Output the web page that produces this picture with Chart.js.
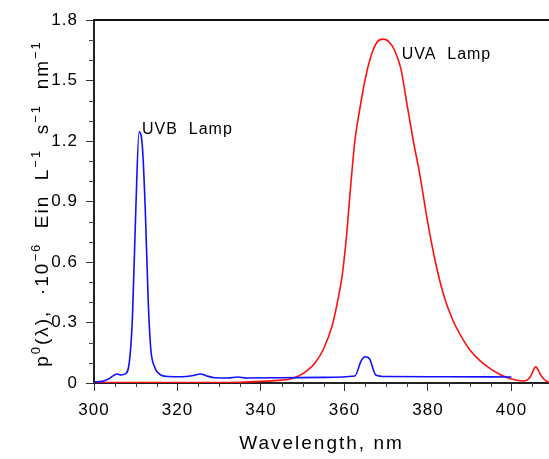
<!DOCTYPE html>
<html>
<head>
<meta charset="utf-8">
<script src="https://cdn.jsdelivr.net/npm/chart.js@4/dist/chart.umd.min.js"></script>
<style>
  html, body { margin: 0; padding: 0; background: #ffffff; }
  #wrap { width: 549px; height: 459px; position: relative; }
</style>
</head>
<body>
<div id="wrap"><canvas id="c"></canvas></div>
<script>
// ---- data ----
const uvbWavelength = [300, 302, 303.5, 305.5, 306.5, 307.5, 308.5, 309.2, 310, 310.8, 311.6, 312.3, 313, 313.6, 314.5, 316, 318, 321, 323.5, 325.5, 327, 329, 332, 334.5, 336.5, 345, 355, 362.5, 364, 365, 366, 367.5, 370, 385, 400];
const uvbIrradiance = [0.005, 0.008, 0.02, 0.045, 0.04, 0.045, 0.11, 0.32, 0.85, 1.245, 1.17, 0.85, 0.40, 0.17, 0.08, 0.04, 0.032, 0.031, 0.036, 0.045, 0.035, 0.026, 0.025, 0.03, 0.025, 0.026, 0.028, 0.035, 0.11, 0.13, 0.12, 0.04, 0.032, 0.031, 0.030];

const uvaWavelength = [300, 320, 335, 340, 344, 347, 349, 351, 353, 355, 357, 358.5, 359.5, 360.5, 361.5, 362.5, 363.6, 365, 366.5, 367.8, 369.2, 370.5, 372, 373.5, 375, 376.5, 378, 380, 382, 384, 386, 388, 390, 392.5, 395, 397.5, 400, 403, 404.5, 405.8, 407, 408, 409];
const uvaIrradiance = [0.002, 0.002, 0.004, 0.008, 0.013, 0.02, 0.035, 0.06, 0.10, 0.17, 0.28, 0.42, 0.54, 0.73, 0.98, 1.2, 1.35, 1.51, 1.63, 1.69, 1.705, 1.695, 1.65, 1.56, 1.38, 1.2, 1.04, 0.79, 0.58, 0.42, 0.31, 0.23, 0.165, 0.11, 0.07, 0.04, 0.02, 0.01, 0.03, 0.08, 0.04, 0.015, 0.003];

const seriesNames = ['UVB  Lamp', 'UVA  Lamp'];
const labelAnchors = [[311.5, 1.235], [373.7, 1.605]];
const xTickValues = [300, 320, 340, 360, 380, 400];
const yTickValues = [0, 0.3, 0.6, 0.9, 1.2, 1.5, 1.8];
const xTitle = 'Wavelength, nm';
// y title: [text, isSuperscript]
const yTitleParts = [['p', 0], ['0', 1], ['(\u03bb),  \u00b710', 0], ['\u22126', 1], ['  Ein  L', 0], ['\u22121', 1], ['  s', 0], ['\u22121', 1], ['  nm', 0], ['\u22121', 1]];

const toPoints = (xs, ys) => xs.map((x, i) => ({ x: x, y: ys[i] }));

const FONT = "'Liberation Sans', Arial, Helvetica, sans-serif";

const spacingPlugin = {
  id: 'spacing',
  beforeUpdate(chart) { chart.ctx.letterSpacing = '1px'; },
  beforeDraw(chart) { chart.ctx.letterSpacing = '1px'; }
};

function patchTitle(scale, spacing) {
  if (scale._titlePatched) return;
  const orig = scale.drawTitle;
  scale.drawTitle = function () {
    const ctx = this.ctx;
    ctx.save();
    ctx.letterSpacing = spacing;
    orig.call(this);
    ctx.restore();
  };
  scale._titlePatched = true;
}

const decorPlugin = {
  id: 'decor',
  afterDraw(chart) {
    const ctx = chart.ctx;
    const xs = chart.scales.x, ys = chart.scales.y;
    const area = chart.chartArea;
    ctx.save();
    // top frame line
    ctx.strokeStyle = '#111';
    ctx.lineWidth = 2;
    ctx.beginPath();
    ctx.moveTo(area.left, area.top);
    ctx.lineTo(area.right + 2, area.top);
    ctx.stroke();
    // minor ticks
    ctx.strokeStyle = '#444';
    ctx.lineWidth = 1;
    for (let v = 305; v < 410; v += 5) {
      if (v % 20 === 0) continue;
      const px = Math.round(xs.getPixelForValue(v)) + 0.5;
      if (px > area.right) break;
      ctx.beginPath();
      ctx.moveTo(px, area.bottom);
      ctx.lineTo(px, area.bottom + 4);
      ctx.stroke();
    }
    for (let k = 1; k < 18; k++) {
      if (k % 3 === 0) continue;
      const py = Math.round(ys.getPixelForValue(k / 10)) + 0.5;
      ctx.beginPath();
      ctx.moveTo(area.left, py);
      ctx.lineTo(area.left - 5, py);
      ctx.stroke();
    }
    // series labels
    ctx.fillStyle = '#000';
    ctx.font = '16px ' + FONT;
    ctx.letterSpacing = '1px';
    ctx.textAlign = 'left';
    ctx.textBaseline = 'alphabetic';
    seriesNames.forEach((name, i) => {
      const [lx, ly] = labelAnchors[i];
      ctx.fillText(name, xs.getPixelForValue(lx), ys.getPixelForValue(ly));
    });
    ctx.restore();

    // y axis title with superscripts (rotated)
    ctx.save();
    ctx.fillStyle = '#000';
    ctx.letterSpacing = '2px';
    ctx.textAlign = 'left';
    ctx.textBaseline = 'alphabetic';
    const mainFont = '19px ' + FONT, supFont = '13px ' + FONT;
    let total = 0;
    const widths = yTitleParts.map(([t, s]) => {
      ctx.font = s ? supFont : mainFont;
      const w = ctx.measureText(t).width;
      total += w;
      return w;
    });
    const cy = (area.top + area.bottom) / 2 + 2;
    ctx.translate(47.5, cy);
    ctx.rotate(-Math.PI / 2);
    let x = -total / 2;
    yTitleParts.forEach(([t, s], i) => {
      ctx.font = s ? supFont : mainFont;
      ctx.fillText(t, x, s ? -8 : 0);
      x += widths[i];
    });
    ctx.restore();
  }
};

new Chart(document.getElementById('c'), {
  type: 'scatter',
  data: {
    datasets: [
      {
        label: seriesNames[0],
        data: toPoints(uvbWavelength, uvbIrradiance),
        showLine: true,
        borderColor: '#1010ff',
        borderWidth: 1.6,
        pointRadius: 0,
        cubicInterpolationMode: 'monotone',
        fill: false
      },
      {
        label: seriesNames[1],
        data: toPoints(uvaWavelength, uvaIrradiance),
        showLine: true,
        borderColor: '#ff1010',
        borderWidth: 1.6,
        pointRadius: 0,
        cubicInterpolationMode: 'monotone',
        fill: false
      }
    ]
  },
  options: {
    responsive: true,
    maintainAspectRatio: false,
    animation: false,
    layout: { padding: { top: 20, left: 0, right: 0, bottom: 0 } },
    plugins: {
      legend: { display: false },
      tooltip: { enabled: false }
    },
    scales: {
      x: {
        type: 'linear',
        min: 300,
        max: 409,
        afterFit(scale) { scale.height = 76; patchTitle(scale, '2px'); },
        afterBuildTicks(scale) { scale.ticks = xTickValues.map(v => ({ value: v })); },
        border: { display: true, color: '#222', width: 2 },
        grid: { drawOnChartArea: false, drawTicks: true, tickLength: 8, color: '#333', tickWidth: 1 },
        ticks: {
          includeBounds: false,
          padding: 9,
          color: '#000',
          font: { family: FONT, size: 17 },
          maxRotation: 0,
          autoSkip: false
        },
        title: {
          display: true,
          text: xTitle,
          color: '#000',
          font: { family: FONT, size: 19 },
          padding: { top: 0, bottom: 4 }
        }
      },
      y: {
        type: 'linear',
        min: 0,
        max: 1.8,
        afterFit(scale) { scale.width = 94; },
        afterBuildTicks(scale) { scale.ticks = yTickValues.map(v => ({ value: v })); },
        border: { display: true, color: '#222', width: 2 },
        grid: { drawOnChartArea: false, drawTicks: true, tickLength: 8, color: '#333', tickWidth: 1 },
        ticks: {
          padding: 8,
          color: '#000',
          font: { family: FONT, size: 17 },
          autoSkip: false,
          callback: (v) => (v === 0 ? '0' : Number(v).toFixed(1))
        },
        title: { display: false }
      }
    }
  },
  plugins: [spacingPlugin, decorPlugin]
});
</script>
</body>
</html>
